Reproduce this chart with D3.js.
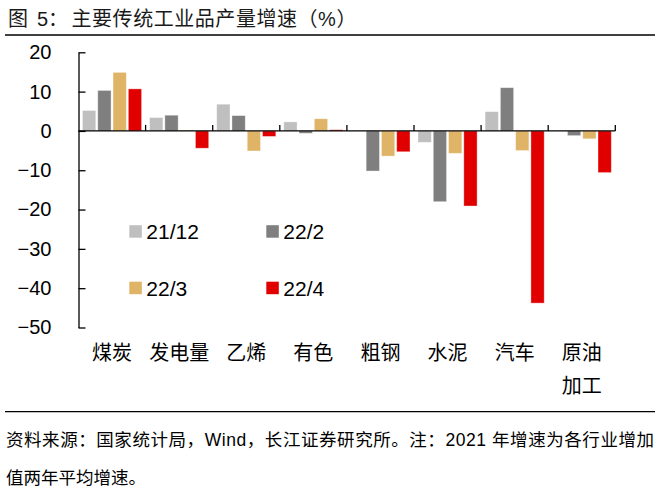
<!DOCTYPE html>
<html>
<head>
<meta charset="utf-8">
<script src="https://cdn.jsdelivr.net/npm/d3@7"></script>
<style>
  body { margin: 0; background: #fff; }
  text { font-family: "Liberation Sans", Arial, "Noto Sans CJK SC", sans-serif; }
</style>
</head>
<body>
<div id="chart"></div>
<script>
// data
const categories = ["煤炭", "发电量", "乙烯", "有色", "粗钢", "水泥", "汽车", "原油加工"];
const catLines = [["煤炭"], ["发电量"], ["乙烯"], ["有色"], ["粗钢"], ["水泥"], ["汽车"], ["原油", "加工"]];
const seriesNames = ["21/12", "22/2", "22/3", "22/4"];
const s2112 = [5.2, 3.4, 6.8, 2.3, 0, -2.9, 4.9, 0];
const s222  = [10.3, 4.0, 3.9, -0.6, -10.2, -18.0, 11.0, -1.2];
const s223  = [14.9, 0.2, -5.1, 3.1, -6.4, -5.7, -5.0, -2.0];
const s224  = [10.7, -4.4, -1.4, 0.3, -5.3, -19.1, -43.8, -10.6];
const yTicks = [20, 10, 0, -10, -20, -30, -40, -50];
const colors = ["#bfbfbf", "#7f7f7f", "#dfb466", "#e00000"];

const allSeries = [s2112, s222, s223, s224];

const W = 667, H = 496;
const svg = d3.select("#chart").append("svg")
    .attr("width", W).attr("height", H);

// title
const title = svg.append("text")
    .attr("x", 8).attr("y", 26)
    .attr("font-size", 20)
    .attr("fill", "#1a1a1a");
title.append("tspan").text("图");
title.append("tspan").attr("x", 37).text("5：");
title.append("tspan").attr("x", 71.5).attr("letter-spacing", 0.55).text("主要传统工业品产量增速（%）");
svg.append("line")
    .attr("x1", 5).attr("x2", 655).attr("y1", 35).attr("y2", 35)
    .attr("stroke", "#000").attr("stroke-width", 1.3);

// scales
const x = d3.scaleBand().domain(categories).range([78.5, 615.3]);
const xs = d3.scaleBand().domain(seriesNames).range([4, x.bandwidth() - 4]).paddingInner(0.13);
const y = d3.scaleLinear().domain([-50, 20]).range([327.5, 52.3]);

// bars
const g = svg.append("g");
seriesNames.forEach(function(name, si) {
  g.selectAll(".bar" + si)
    .data(allSeries[si])
    .join("rect")
      .attr("x", (d, i) => x(categories[i]) + xs(name))
      .attr("width", xs.bandwidth())
      .attr("y", d => y(Math.max(0, d)))
      .attr("height", d => Math.abs(y(d) - y(0)))
      .attr("fill", colors[si])
      .attr("stroke", "#fff").attr("stroke-opacity", 0.45).attr("stroke-width", 0.8);
});

// y axis
const yAxis = svg.append("g")
    .attr("transform", "translate(78.5,0)")
    .call(d3.axisLeft(y).tickValues(yTicks).tickSizeInner(-7).tickSizeOuter(0).tickPadding(27));
yAxis.select(".domain").attr("stroke", "#000").attr("stroke-width", 1.3);
yAxis.selectAll(".tick line").attr("stroke", "#000").attr("stroke-width", 1.3);
yAxis.selectAll(".tick text")
    .attr("font-size", 20).attr("fill", "#000")
    .attr("font-family", "Liberation Sans, Arial, sans-serif");

// zero line with category ticks
svg.append("line")
    .attr("x1", 78.5).attr("x2", 615.3).attr("y1", y(0)).attr("y2", y(0))
    .attr("stroke", "#000").attr("stroke-width", 1.3);
const bounds = categories.map(c => x(c)).slice(1).concat([x.range()[1]]);
svg.selectAll(".xtick")
  .data(bounds)
  .join("line")
    .attr("x1", d => d).attr("x2", d => d)
    .attr("y1", y(0)).attr("y2", y(0) - 6)
    .attr("stroke", "#000").attr("stroke-width", 1.3);

// category labels
catLines.forEach(function(lines, i) {
  lines.forEach(function(t, j) {
    svg.append("text")
      .attr("x", x(categories[i]) + x.bandwidth() / 2)
      .attr("y", 360 + j * 33)
      .attr("text-anchor", "middle")
      .attr("font-size", 20)
      .attr("fill", "#000")
      .text(t);
  });
});

// legend
const legendPos = [[129.3, 231.5], [266.3, 231.5], [129.3, 288], [266.3, 288]];
seriesNames.forEach(function(name, i) {
  svg.append("rect")
    .attr("x", legendPos[i][0]).attr("y", legendPos[i][1] - 6.3)
    .attr("width", 12.5).attr("height", 12.5)
    .attr("fill", colors[i]);
  svg.append("text")
    .attr("x", legendPos[i][0] + 17).attr("y", legendPos[i][1])
    .attr("dy", "0.36em")
    .attr("font-size", 21)
    .attr("fill", "#000")
    .text(name);
});

// footer
svg.append("line")
    .attr("x1", 5).attr("x2", 655).attr("y1", 411.7).attr("y2", 411.7)
    .attr("stroke", "#000").attr("stroke-width", 1.3);
svg.append("text")
    .attr("x", 6).attr("y", 446)
    .attr("font-size", 17.5)
    .attr("fill", "#000")
    .attr("textLength", 648).attr("lengthAdjust", "spacing")
    .text("资料来源：国家统计局，Wind，长江证券研究所。注：2021 年增速为各行业增加");
svg.append("text")
    .attr("x", 6).attr("y", 484)
    .attr("font-size", 17.5)
    .attr("fill", "#000")
    .text("值两年平均增速。");
</script>
</body>
</html>
